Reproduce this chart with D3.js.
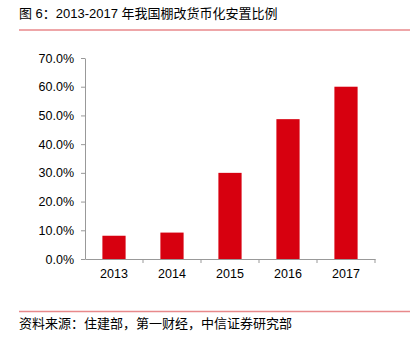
<!DOCTYPE html>
<html><head><meta charset="utf-8">
<script src="https://cdn.jsdelivr.net/npm/d3@7"></script>
<style>body{margin:0;background:#fff;}svg{display:block;}</style>
</head><body>
<script>
const categories = ["2013","2014","2015","2016","2017"];
const values = [0.081, 0.092, 0.30, 0.487, 0.60];
const yTicks = [0,0.1,0.2,0.3,0.4,0.5,0.6,0.7];
const title = "图 6：2013-2017 年我国棚改货币化安置比例";
const source = "资料来源：住建部，第一财经，中信证券研究部";

const W=410,H=337;
const svg=d3.select("body").append("svg").attr("width",W).attr("height",H);
const font="'Liberation Sans', Arial, 'Noto Sans CJK SC', sans-serif";

svg.append("text").attr("x",19).attr("y",18).attr("font-family",font).attr("font-size",13).attr("fill","#000").text(title);
svg.append("line").attr("x1",19).attr("x2",410).attr("y1",30).attr("y2",30).attr("stroke","#e8898b").attr("stroke-width",1.5);

const x=d3.scaleBand().domain(categories).range([85,375]).paddingInner(0.6).paddingOuter(0.3);
const y=d3.scaleLinear().domain([0,0.7]).range([259,58]);

const g=svg.append("g");
g.selectAll("rect").data(values).join("rect")
 .attr("x",(d,i)=>x(categories[i])).attr("width",x.bandwidth())
 .attr("y",d=>y(d)).attr("height",d=>y(0)-y(d)).attr("fill","#d7000f");

const yAxis=d3.axisLeft(y).tickValues(yTicks).tickFormat(d3.format(".1%")).tickSize(4).tickSizeOuter(0);
const ya=svg.append("g").attr("transform","translate(85,0)").call(yAxis);
ya.selectAll("text").attr("font-family",font).attr("font-size",12.5).attr("fill","#000").attr("dx","-4");
ya.select(".domain").attr("stroke","#999");
ya.selectAll(".tick line").attr("stroke","#999");

const xb=d3.scaleBand().domain(categories).range([85,375]);
const xAxis=d3.axisBottom(xb).tickSize(0).tickSizeOuter(0);
const xa=svg.append("g").attr("transform","translate(0,259)").call(xAxis);
xa.select(".domain").attr("stroke","#999");
xa.selectAll("text").attr("font-family",font).attr("font-size",12.5).attr("fill","#000").attr("dy","1.3em");
const bounds=categories.map(c=>xb(c)).concat([375]).slice(1);
xa.selectAll("line.b").data(bounds).join("line").attr("class","b")
 .attr("x1",d=>d).attr("x2",d=>d).attr("y1",0).attr("y2",4).attr("stroke","#999");

svg.append("line").attr("x1",19).attr("x2",410).attr("y1",311.5).attr("y2",311.5).attr("stroke","#e8898b").attr("stroke-width",1.5);
svg.append("text").attr("x",19).attr("y",328).attr("font-family",font).attr("font-size",13).attr("fill","#000").text(source);
</script>
</body></html>
